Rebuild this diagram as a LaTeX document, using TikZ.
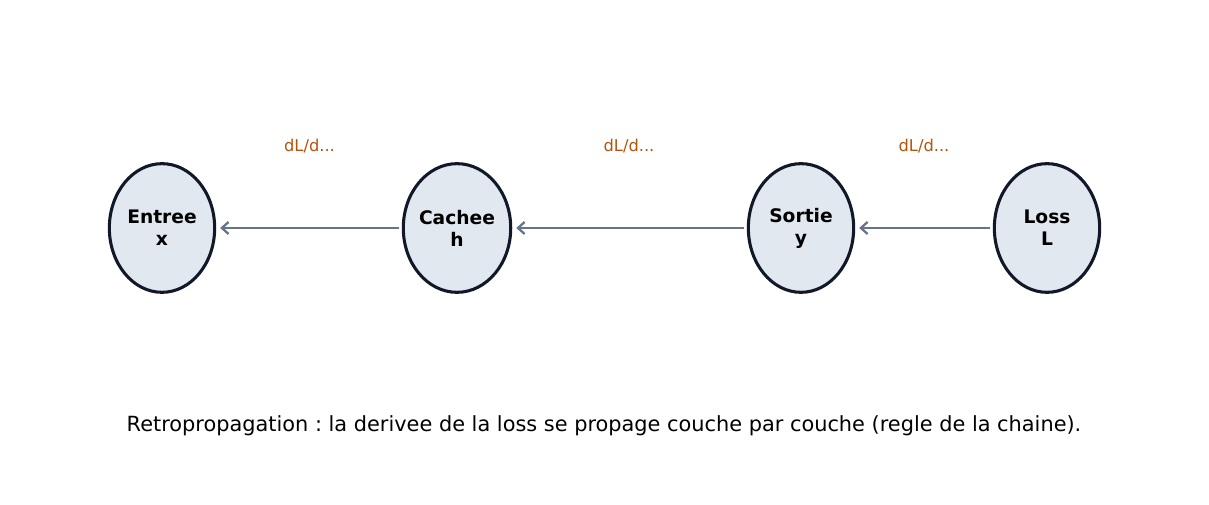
\documentclass[tikz,border=0pt]{standalone}
\usepackage{fontspec}
\setmainfont{DejaVu Sans}
\usetikzlibrary{arrows.meta,shapes.geometric}
\definecolor{nodefill}{HTML}{E2E8F0}
\definecolor{nodeline}{HTML}{111827}
\definecolor{gradline}{HTML}{64748B}
\definecolor{gradtext}{HTML}{B45309}
\frenchspacing

\begin{document}
\begin{tikzpicture}[x=0.75pt,y=0.75pt,>=Stealth,
  layer/.style={ellipse,draw=nodeline,fill=nodefill,line width=2.3pt,
    minimum width=79pt,minimum height=96.5pt,inner sep=0pt,align=center,
    font=\fontsize{14}{16.5}\selectfont\bfseries},
  back/.style={->,draw=gradline,line width=1.7pt,shorten >=3pt,shorten <=2pt,
    arrows={-Straight Barb[length=5pt,width=9pt]}},
  grad/.style={text=gradtext,font=\fontsize{12.2}{14}\selectfont}]
\useasboundingbox (0,0) rectangle (1209,505);
% ================ couches ================
\node[layer] (entree) at (162,277) {Entree\\x};
\node[layer] (cachee) at (457,277) {Cachee\\h};
\node[layer] (sortie) at (801,277) {Sortie\\y};
\node[layer] (loss)   at (1047,277) {Loss\\L};
% ================ gradients (de droite a gauche) ================
\draw[back] (loss) -- (sortie);
\draw[back] (sortie) -- (cachee);
\draw[back] (cachee) -- (entree);
\node[grad] (g1) at (309.5,358.5) {dL/d...};
\node[grad] (g2) at (629,358.5) {dL/d...};
\node[grad] (g3) at (924,358.5) {dL/d...};
% legende
\node[font=\fontsize{15.65}{18}\selectfont] (legende) at (604,79.5)
  {Retropropagation : la derivee de la loss se propage couche par couche (regle de la chaine).};
\end{tikzpicture}
\end{document}
